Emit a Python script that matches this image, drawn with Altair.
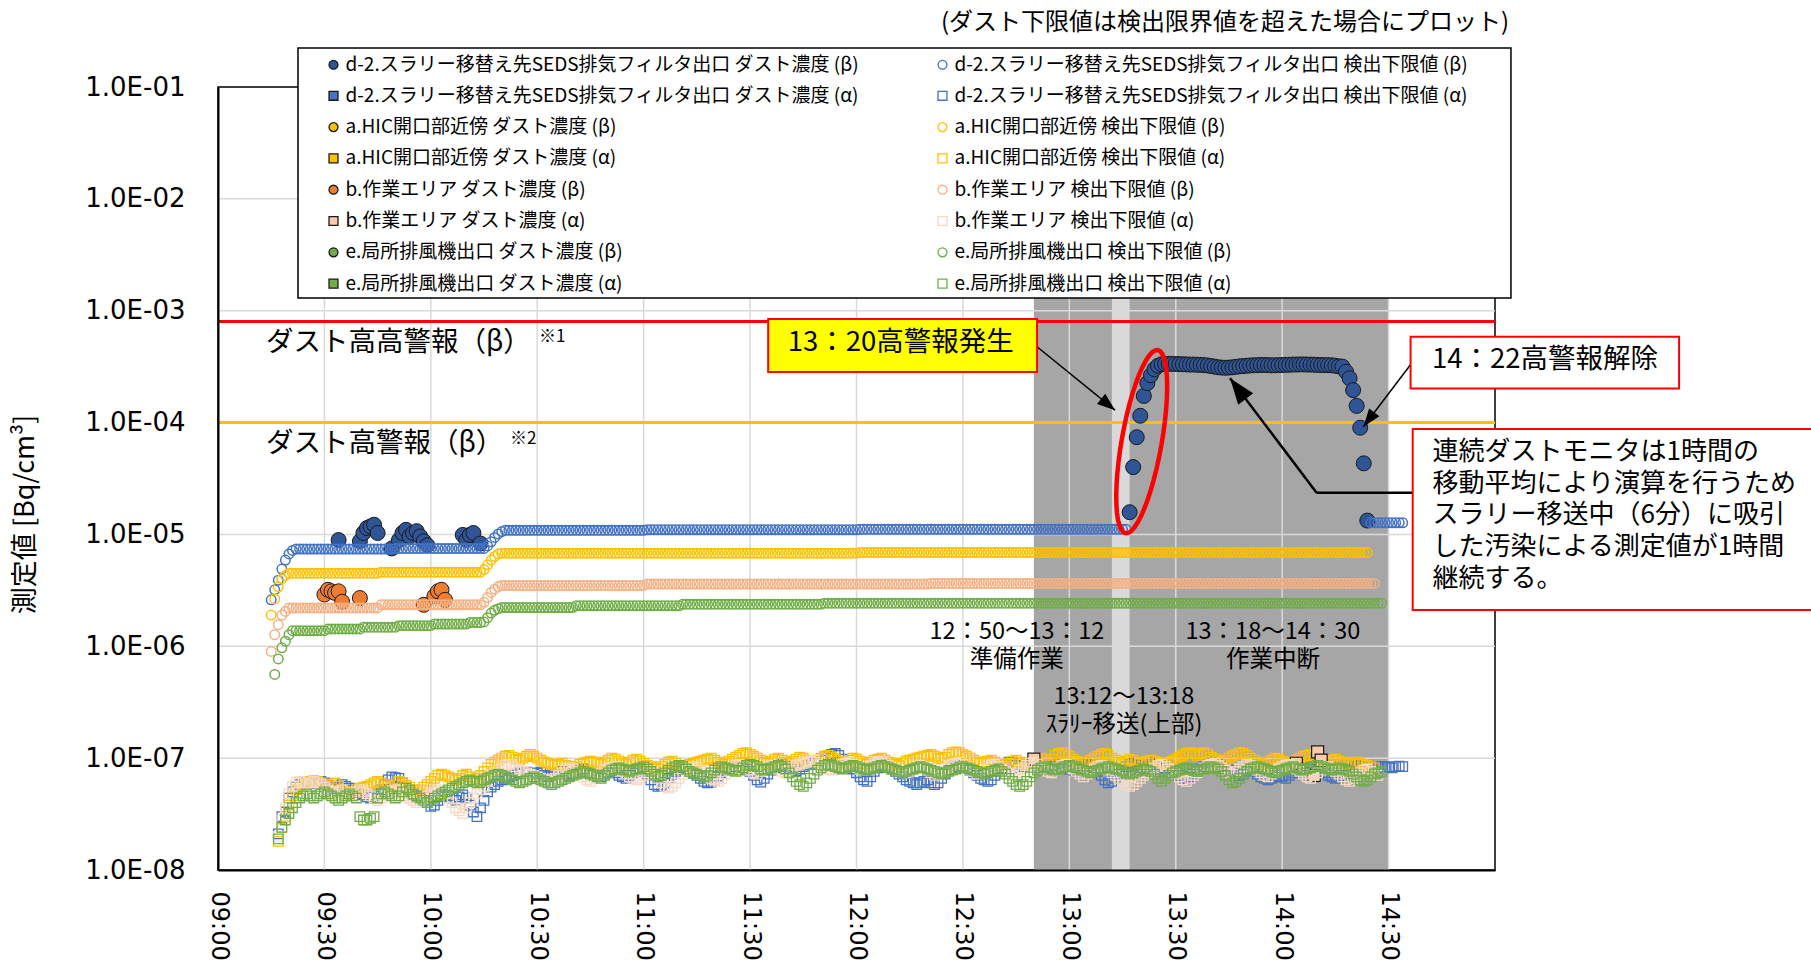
import math
import altair as alt
import pandas as pd

# ---------------------------------------------------------------------------
# Geometry: x = minutes after 09:00 (09:00-15:00), y = Bq/cm3 on a log scale
# ---------------------------------------------------------------------------
PLOT_W, PLOT_H = 1277, 783
X_DOMAIN = [0, 360]
Y_DOMAIN = [1e-8, 1e-1]

x_tick_minutes = [0, 30, 60, 90, 120, 150, 180, 210, 240, 270, 300, 330]
y_tick_values = [1e-8, 1e-7, 1e-6, 1e-5, 1e-4, 1e-3, 1e-2, 1e-1]

# ---------------------------------------------------------------------------
# Series (this order = drawing order)
# ---------------------------------------------------------------------------
series_labels = [
    "d-2.スラリー移替え先SEDS排気フィルタ出口 ダスト濃度 (β)",
    "d-2.スラリー移替え先SEDS排気フィルタ出口 検出下限値 (β)",
    "d-2.スラリー移替え先SEDS排気フィルタ出口 ダスト濃度 (α)",
    "d-2.スラリー移替え先SEDS排気フィルタ出口 検出下限値 (α)",
    "a.HIC開口部近傍 ダスト濃度 (β)",
    "a.HIC開口部近傍 検出下限値 (β)",
    "a.HIC開口部近傍 ダスト濃度 (α)",
    "a.HIC開口部近傍 検出下限値 (α)",
    "b.作業エリア ダスト濃度 (β)",
    "b.作業エリア 検出下限値 (β)",
    "b.作業エリア ダスト濃度 (α)",
    "b.作業エリア 検出下限値 (α)",
    "e.局所排風機出口 ダスト濃度 (β)",
    "e.局所排風機出口 検出下限値 (β)",
    "e.局所排風機出口 ダスト濃度 (α)",
    "e.局所排風機出口 検出下限値 (α)",
]
series_fill = [
    "#2F5597", "transparent", "#4472C4", "transparent",
    "#FFC000", "transparent", "#FFC000", "transparent",
    "#ED7D31", "transparent", "#F8CBAD", "transparent",
    "#70AD47", "transparent", "#70AD47", "transparent",
]
series_stroke = [
    "#1A1A1A", "#4472C4", "#1A1A1A", "#4472C4",
    "#1A1A1A", "#FFC000", "#1A1A1A", "#FFC000",
    "#1A1A1A", "#F4B183", "#1A1A1A", "#F8D9C4",
    "#1A1A1A", "#70AD47", "#1A1A1A", "#70AD47",
]
series_shape = ["circle", "circle", "square", "square"] * 4
series_size = [225, 90, 144, 90] * 4
series_width = [1.0, 1.5, 1.2, 1.3] * 4

# legend lists the concentrations in the first column, detection limits in the second
legend_order = [0, 2, 4, 6, 8, 10, 12, 14, 1, 3, 5, 7, 9, 11, 13, 15]

# ---------------------------------------------------------------------------
# Measured values (1-minute samples)
# ---------------------------------------------------------------------------
# d-2 dust concentration (β), morning exceedances: minute, value
d2_conc_beta_am_min = [34, 40, 41, 42, 43, 44, 45, 49, 51, 52, 53, 54, 55, 56, 57, 58, 59, 69, 70, 71, 72, 74]
d2_conc_beta_am_val = [8.9e-6, 8.7e-6, 1.03e-5, 1.14e-5, 1.18e-5, 1.22e-5, 1.03e-5, 7.5e-6, 8.9e-6, 1.03e-5,
                       1.10e-5, 9.6e-6, 1.03e-5, 1.07e-5, 9.6e-6, 8.7e-6, 8.0e-6, 9.9e-6, 8.9e-6, 9.9e-6,
                       1.03e-5, 8.3e-6]
# d-2 dust concentration (β) from 13:17 to 14:24
d2_conc_beta_pm_start = 257
d2_conc_beta_pm_val = [
    1.58e-5, 4.0e-5, 7.4e-5, 1.15e-4, 1.73e-4, 2.25e-4, 2.65e-4, 3.0e-4, 3.22e-4, 3.32e-4,
    3.34e-4, 3.35e-4, 3.35e-4, 3.34e-4, 3.33e-4, 3.32e-4, 3.31e-4, 3.30e-4, 3.30e-4, 3.29e-4,
    3.28e-4, 3.26e-4, 3.24e-4, 3.20e-4, 3.16e-4, 3.12e-4, 3.10e-4, 3.09e-4, 3.10e-4, 3.12e-4,
    3.15e-4, 3.18e-4, 3.20e-4, 3.22e-4, 3.24e-4, 3.25e-4, 3.26e-4, 3.27e-4, 3.27e-4, 3.26e-4,
    3.25e-4, 3.25e-4, 3.26e-4, 3.27e-4, 3.28e-4, 3.29e-4, 3.30e-4, 3.30e-4, 3.31e-4, 3.31e-4,
    3.30e-4, 3.30e-4, 3.29e-4, 3.28e-4, 3.27e-4, 3.26e-4, 3.26e-4, 3.25e-4, 3.22e-4, 3.18e-4,
    3.16e-4, 2.85e-4, 2.49e-4, 1.95e-4, 1.41e-4, 9.0e-5, 4.32e-5, 1.33e-5,
]

# detection limits (β): (value, number of consecutive minutes)
d2_lod_beta_start = 15
d2_lod_beta_runs = [(2.6e-6, 1), (3.2e-6, 1), (3.9e-6, 1), (4.9e-6, 1), (5.9e-6, 1), (6.7e-6, 1), (7.2e-6, 1),
                    (7.4e-6, 28), (7.5e-6, 26), (7.9e-6, 1), (8.6e-6, 1), (9.4e-6, 1), (1.01e-5, 1),
                    (1.06e-5, 1), (1.09e-5, 40), (1.10e-5, 60), (1.11e-5, 76)]
d2_lod_beta_tail_start = 325
d2_lod_beta_tail_runs = [(1.27e-5, 10)]

a_lod_beta_start = 15
a_lod_beta_runs = [(1.9e-6, 1), (2.65e-6, 1), (3.4e-6, 1), (4.0e-6, 1), (4.3e-6, 1), (4.5e-6, 26), (4.6e-6, 29),
                   (4.85e-6, 1), (5.35e-6, 1), (5.9e-6, 1), (6.35e-6, 1), (6.7e-6, 1), (6.8e-6, 101),
                   (6.9e-6, 144)]

b_lod_beta_start = 15
b_lod_beta_runs = [(9.0e-7, 1), (1.27e-6, 1), (1.56e-6, 1), (1.9e-6, 1), (2.05e-6, 1), (2.2e-6, 26),
                   (2.35e-6, 29), (2.47e-6, 1), (2.73e-6, 1), (3.03e-6, 1), (3.24e-6, 1), (3.42e-6, 1),
                   (3.5e-6, 41), (3.6e-6, 80), (3.65e-6, 126)]

e_lod_beta_start = 16
e_lod_beta_runs = [(5.6e-7, 1), (7.7e-7, 1), (9.7e-7, 1), (1.11e-6, 1), (1.27e-6, 1), (1.38e-6, 10),
                   (1.43e-6, 10), (1.48e-6, 10), (1.53e-6, 10), (1.58e-6, 10), (1.63e-6, 4), (1.65e-6, 1),
                   (1.8e-6, 1), (1.98e-6, 1), (2.1e-6, 1), (2.17e-6, 1), (2.22e-6, 21), (2.3e-6, 30),
                   (2.38e-6, 40), (2.43e-6, 158)]

# b dust concentration (β), morning exceedances
b_conc_beta_min = [30, 31, 32, 33, 34, 35, 40, 58, 61, 62, 63, 64]
b_conc_beta_val = [2.9e-6, 3.2e-6, 3.1e-6, 3.0e-6, 3.1e-6, 2.5e-6, 2.7e-6, 2.35e-6, 2.8e-6, 3.1e-6, 3.2e-6, 2.6e-6]

# b dust concentration (α)
b_conc_alpha_min = [230, 304, 309, 310, 311]
b_conc_alpha_val = [9.8e-8, 9.0e-8, 7.0e-8, 1.14e-7, 9.6e-8]

# detection limits (α), units of 1e-9 Bq/cm3, one value per minute
ALPHA_UNIT = 1e-9
d2_lod_alpha_start = 17
d2_lod_alpha = [
    21, 30, 33, 44, 50, 55, 58, 60, 62, 61, 60, 59, 62, 60, 57, 55, 53, 55, 58, 56,
    54, 52, 50, 48, 47, 45, 44, 46, 48, 52, 58, 64, 68, 67, 66, 60, 55, 50, 47, 45,
    46, 44, 40, 37, 38, 42, 45, 47, 46, 44, 42, 45, 47, 44, 38, 33, 30, 36, 42, 50,
    55, 58, 62, 64, 66, 68, 70, 72, 74, 73, 75, 74, 72, 73, 75, 70, 68, 70, 72, 74,
    76, 73, 70, 72, 75, 78, 80, 76, 74, 72, 70, 68, 72, 75, 78, 74, 70, 68, 66, 70,
    74, 77, 80, 76, 72, 64, 58, 56, 57, 60, 66, 72, 76, 79, 82, 80, 76, 73, 70, 66,
    62, 60, 61, 64, 69, 74, 78, 80, 82, 84, 86, 85, 80, 76, 70, 64, 61, 66, 72, 78,
    82, 86, 88, 85, 82, 80, 77, 80, 84, 87, 90, 92, 94, 96, 100, 104, 108, 110, 106, 98,
    90, 84, 80, 74, 68, 64, 62, 68, 76, 82, 86, 88, 85, 80, 76, 72, 68, 64, 62, 60,
    58, 60, 62, 64, 60, 58, 60, 66, 72, 78, 84, 88, 90, 86, 82, 78, 74, 70, 66, 64,
    62, 64, 70, 76, 82, 88, 92, 90, 86, 82, 84, 88, 90, 92, 88, 84, 80, 78, 82, 86,
    90, 88, 84, 80, 78, 76, 80, 84, 88, 86, 82, 76, 70, 64, 60, 62, 66, 72, 78, 84,
    88, 90, 86, 82, 80, 84, 88, 92, 90, 86, 82, 78, 74, 72, 70, 68, 66, 68, 72, 76,
    80, 84, 88, 90, 92, 88, 84, 80, 78, 74, 72, 70, 72, 76, 80, 76, 72, 68, 66, 64,
    66, 68, 70, 68, 66, 70, 74, 78, 82, 86, 88, 90, 86, 82, 78, 74, 70, 68, 66, 68,
    70, 72, 76, 80, 84, 86, 88, 86, 84, 82, 82, 84, 84, 83, 82, 84, 85, 84,
]
a_lod_alpha_start = 17
a_lod_alpha = [
    18, 24, 30, 38, 46, 52, 56, 58, 60, 62, 63, 62, 60, 58, 56, 58, 60, 56, 52, 50,
    48, 50, 52, 54, 55, 56, 58, 60, 62, 60, 58, 56, 54, 58, 62, 60, 57, 55, 52, 50,
    52, 55, 58, 62, 66, 70, 72, 70, 68, 66, 64, 66, 70, 72, 68, 64, 66, 70, 76, 82,
    88, 92, 96, 100, 104, 106, 102, 98, 96, 100, 104, 108, 104, 100, 96, 92, 90, 88, 86, 88,
    90, 86, 84, 82, 84, 88, 90, 92, 94, 92, 90, 88, 92, 96, 100, 98, 94, 90, 88, 92,
    96, 98, 94, 90, 86, 84, 82, 80, 84, 88, 92, 94, 90, 86, 84, 86, 88, 90, 92, 94,
    96, 98, 100, 96, 92, 88, 90, 94, 98, 102, 106, 110, 112, 108, 104, 100, 96, 92, 90, 94,
    98, 100, 96, 92, 90, 94, 98, 102, 100, 96, 94, 92, 96, 100, 104, 106, 102, 98, 94, 90,
    92, 96, 100, 98, 94, 90, 88, 92, 96, 98, 100, 96, 92, 90, 88, 86, 90, 94, 96, 98,
    100, 102, 104, 106, 108, 104, 100, 98, 102, 108, 112, 114, 112, 108, 104, 100, 96, 92, 90, 92,
    94, 96, 92, 88, 86, 88, 90, 94, 96, 92, 90, 88, 90, 94, 98, 100, 96, 92, 98, 106,
    110, 112, 108, 104, 98, 94, 92, 90, 92, 96, 100, 104, 108, 110, 106, 100, 96, 92, 90, 94,
    98, 96, 92, 90, 92, 94, 96, 94, 92, 90, 88, 90, 94, 98, 102, 106, 110, 112, 110, 106,
    110, 112, 108, 102, 98, 94, 92, 96, 100, 104, 108, 112, 110, 106, 100, 96, 92, 90, 88, 92,
    96, 100, 98, 94, 92, 90, 92, 96, 100, 104, 106, 108, 104, 100, 96, 94, 92, 96, 98, 94,
    92, 90, 88, 90, 92, 90, 88, 86, 84, 82,
]
b_lod_alpha_start = 17
b_lod_alpha = [
    20, 28, 36, 48, 56, 60, 62, 60, 58, 60, 62, 60, 58, 55, 52, 50, 48, 50, 52, 48,
    46, 48, 50, 52, 50, 48, 46, 44, 42, 44, 46, 48, 50, 52, 50, 48, 46, 44, 42, 40,
    42, 44, 46, 48, 50, 52, 50, 48, 44, 40, 36, 34, 32, 36, 40, 44, 48, 52, 56, 62,
    68, 74, 78, 82, 86, 88, 84, 80, 78, 76, 74, 72, 70, 68, 66, 64, 62, 64, 66, 70,
    74, 78, 82, 80, 76, 72, 68, 64, 62, 66, 70, 74, 78, 80, 82, 84, 80, 76, 72, 68,
    66, 64, 66, 70, 74, 76, 72, 66, 60, 56, 54, 56, 60, 66, 72, 78, 82, 84, 82, 78,
    74, 70, 66, 64, 62, 66, 72, 78, 82, 86, 88, 86, 82, 78, 74, 72, 76, 80, 84, 86,
    84, 80, 76, 74, 78, 82, 86, 88, 90, 92, 94, 96, 92, 88, 84, 80, 78, 80, 84, 88,
    90, 92, 88, 84, 80, 78, 82, 86, 90, 92, 94, 90, 86, 82, 80, 78, 76, 74, 76, 80,
    84, 86, 82, 78, 74, 70, 72, 76, 80, 84, 88, 90, 92, 88, 84, 80, 76, 72, 74, 78,
    82, 86, 88, 84, 80, 76, 72, 70, 74, 78, 82, 86, 90, 92, 88, 84, 80, 76, 74, 78,
    82, 86, 88, 84, 80, 76, 72, 68, 72, 76, 80, 84, 86, 82, 78, 74, 70, 66, 62, 58,
    56, 58, 62, 66, 70, 74, 78, 82, 86, 88, 84, 80, 76, 72, 68, 64, 62, 66, 70, 74,
    78, 82, 86, 88, 90, 86, 82, 78, 74, 72, 76, 80, 84, 88, 86, 82, 78, 74, 70, 68,
    72, 76, 80, 84, 86, 88, 84, 80, 76, 72, 68, 66, 70, 74, 78, 82, 84, 80, 76, 72,
    68, 64, 62, 66, 70, 74, 78, 80, 76, 72, 70,
]
e_lod_alpha_start = 17
e_lod_alpha = [
    19, 24, 28, 32, 36, 40, 44, 46, 48, 46, 44, 46, 48, 50, 48, 46, 44, 42, 44, 46,
    48, 46, 44, 30, 28, 28, 29, 30, 44, 48, 50, 48, 46, 44, 46, 50, 54, 52, 48, 46,
    44, 42, 40, 42, 44, 46, 48, 50, 52, 54, 56, 58, 60, 62, 64, 62, 60, 62, 64, 66,
    68, 70, 72, 70, 68, 66, 64, 62, 60, 62, 64, 66, 68, 66, 64, 62, 60, 58, 60, 62,
    64, 66, 68, 70, 72, 74, 76, 74, 72, 70, 68, 66, 70, 74, 78, 80, 82, 80, 78, 76,
    78, 80, 82, 84, 80, 76, 72, 68, 70, 74, 78, 82, 84, 86, 84, 80, 76, 74, 72, 70,
    68, 70, 74, 78, 82, 84, 82, 80, 78, 76, 78, 82, 86, 88, 86, 84, 80, 78, 80, 82,
    84, 86, 84, 80, 74, 68, 62, 58, 56, 60, 66, 72, 78, 82, 86, 88, 86, 84, 82, 80,
    82, 84, 86, 84, 82, 80, 78, 80, 82, 84, 86, 84, 82, 80, 78, 76, 74, 76, 78, 80,
    82, 84, 82, 80, 78, 76, 74, 72, 74, 76, 78, 80, 82, 84, 82, 80, 78, 76, 74, 72,
    74, 76, 78, 80, 76, 72, 66, 62, 58, 56, 58, 62, 68, 74, 78, 82, 84, 82, 80, 78,
    80, 82, 84, 86, 84, 82, 80, 78, 76, 74, 76, 78, 80, 82, 84, 82, 80, 78, 76, 74,
    72, 74, 76, 78, 80, 78, 76, 72, 66, 62, 66, 70, 74, 76, 78, 80, 82, 80, 78, 76,
    78, 80, 82, 84, 82, 80, 76, 70, 64, 60, 62, 66, 72, 76, 80, 82, 84, 82, 80, 78,
    76, 74, 76, 78, 80, 82, 84, 82, 80, 78, 80, 82, 84, 86, 84, 82, 80, 78, 80, 82,
    80, 78, 76, 72, 68, 64, 62, 64, 68, 72, 74, 76,
]

# work periods shaded in the background (minutes after 09:00)
band_start = [230, 252]
band_end = [330, 257]
band_color = ["#A6A6A6", "#D9D9D9"]

# alarm levels
alarm_high_high = 8e-4
alarm_high = 1e-4


def expand_runs(start, runs):
    pts, m = [], start
    for value, count in runs:
        for _ in range(count):
            pts.append((m, value))
            m += 1
    return pts


def consecutive(start, values, unit=1.0):
    return [(start + i, v * unit) for i, v in enumerate(values)]


points_by_series = {i: [] for i in range(len(series_labels))}
points_by_series[0] = list(zip(d2_conc_beta_am_min, d2_conc_beta_am_val)) + consecutive(d2_conc_beta_pm_start, d2_conc_beta_pm_val)
points_by_series[1] = expand_runs(d2_lod_beta_start, d2_lod_beta_runs) + expand_runs(d2_lod_beta_tail_start, d2_lod_beta_tail_runs)
points_by_series[3] = consecutive(d2_lod_alpha_start, d2_lod_alpha, ALPHA_UNIT)
points_by_series[5] = expand_runs(a_lod_beta_start, a_lod_beta_runs)
points_by_series[7] = consecutive(a_lod_alpha_start, a_lod_alpha, ALPHA_UNIT)
points_by_series[8] = list(zip(b_conc_beta_min, b_conc_beta_val))
points_by_series[9] = expand_runs(b_lod_beta_start, b_lod_beta_runs)
points_by_series[10] = list(zip(b_conc_alpha_min, b_conc_alpha_val))
points_by_series[11] = consecutive(b_lod_alpha_start, b_lod_alpha, ALPHA_UNIT)
points_by_series[13] = expand_runs(e_lod_beta_start, e_lod_beta_runs)
points_by_series[15] = consecutive(e_lod_alpha_start, e_lod_alpha, ALPHA_UNIT)

rows = []
for i, label in enumerate(series_labels):
    for m, v in points_by_series[i]:
        rows.append({"m": m, "v": v, "series": label,
                     "size": series_size[i], "sw": series_width[i]})
data = pd.DataFrame(rows)

# ---------------------------------------------------------------------------
# Scales and axes
# ---------------------------------------------------------------------------
XS = alt.Scale(domain=X_DOMAIN, nice=False, zero=False)
YS = alt.Scale(type="log", domain=Y_DOMAIN, nice=False)

X_LABEL = ("(floor(datum.value / 60) + 9 < 10 ? '0' : '') + toString(floor(datum.value / 60) + 9)"
           " + ':' + (datum.value % 60 < 10 ? '0' : '') + toString(datum.value % 60)")
Y_LABEL = "'1.0E-0' + toString(round(-log(datum.value) / LN10))"

XA = alt.Axis(values=x_tick_minutes, labelExpr=X_LABEL, labelAngle=90, labelFont="DejaVu Sans",
              labelFontSize=24, labelColor="black", labelPadding=21, labelFlush=False,
              labelOverlap=False, ticks=False, grid=False, domainColor="black", domainWidth=2,
              title=None, zindex=1)
YA = alt.Axis(values=y_tick_values, labelExpr=Y_LABEL, labelFont="DejaVu Sans", labelFontSize=26,
              labelColor="black", labelPadding=33, labelFlush=False, labelOverlap=False,
              ticks=False, grid=False, domainColor="black", domainWidth=2,
              title="測定値 [Bq/cm³]", titleFont="Noto Sans CJK JP", titleFontSize=27,
              titleFontWeight="normal", titleColor="black", titleAngle=270,
              titleX=-193, titleY=427, titleAlign="center", titleBaseline="middle", zindex=1)


def X(field):
    return alt.X(field, type="quantitative", scale=XS, axis=XA)


def Y(field):
    return alt.Y(field, type="quantitative", scale=YS, axis=YA)


# ---------------------------------------------------------------------------
# Background: shaded periods, grid lines, alarm levels, legend frame
# ---------------------------------------------------------------------------
bands = alt.Chart(pd.DataFrame({"m0": band_start, "m1": band_end, "c": band_color,
                                "v0": [Y_DOMAIN[0]] * 2, "v1": [Y_DOMAIN[1]] * 2})).mark_rect().encode(
    x=X("m0"), x2="m1", y=Y("v0"), y2="v1", fill=alt.Fill("c:N", scale=None))

vgrid = alt.Chart(pd.DataFrame({"m": x_tick_minutes[1:]})).mark_rule(
    color="#D9D9D9", strokeWidth=1.5).encode(x=X("m"))
hgrid = alt.Chart(pd.DataFrame({"v": y_tick_values[1:-1]})).mark_rule(
    color="#D9D9D9", strokeWidth=1.5).encode(y=Y("v"))

red_line = alt.Chart(pd.DataFrame({"v": [alarm_high_high]})).mark_rule(
    color="#FF0000", strokeWidth=3).encode(y=Y("v"))
orange_line = alt.Chart(pd.DataFrame({"v": [alarm_high]})).mark_rule(
    color="#FFC000", strokeWidth=3).encode(y=Y("v"))

legend_frame = alt.Chart(pd.DataFrame({"m0": [22.55], "m1": [364.5], "v0": [0.2232], "v1": [1.30e-3]})).mark_rect(
    fill="white", stroke="black", strokeWidth=1.5).encode(x=X("m0"), x2="m1", y=Y("v0"), y2="v1")

# ---------------------------------------------------------------------------
# Measurements
# ---------------------------------------------------------------------------
legend_domain = [series_labels[i] for i in legend_order]
legend = alt.Legend(
    title=None, orient="none", legendX=77, legendY=-39, columns=2, padding=7,
    labelFont="Noto Sans CJK JP", labelFontSize=19, labelColor="black", labelLimit=900,
    symbolSize=80, symbolStrokeWidth=1.3, symbolOffset=22, labelOffset=2.5,
    rowPadding=11.3, columnPadding=52, zindex=1,
)
points = alt.Chart(data).mark_point(filled=True, opacity=1).encode(
    x=X("m"), y=Y("v"),
    fill=alt.Fill("series:N", scale=alt.Scale(domain=legend_domain, range=[series_fill[i] for i in legend_order]),
                  legend=legend),
    stroke=alt.Stroke("series:N", scale=alt.Scale(domain=legend_domain, range=[series_stroke[i] for i in legend_order]),
                      legend=legend),
    shape=alt.Shape("series:N", scale=alt.Scale(domain=legend_domain, range=[series_shape[i] for i in legend_order]),
                    legend=legend),
    size=alt.Size("size:Q", scale=None),
    strokeWidth=alt.StrokeWidth("sw:Q", scale=None),
)

# ---------------------------------------------------------------------------
# Annotations (positions in minutes after 09:00 and Bq/cm3)
# ---------------------------------------------------------------------------
JP = "Noto Sans CJK JP"


def text_lines(m, v, lines, size, align="left", line_height=0):
    """One text mark per line; (m, v) is the middle of the first line."""
    layers = []
    for k, line in enumerate(lines):
        layers.append(
            alt.Chart(pd.DataFrame({"m": [m], "v": [v], "t": [line]})).mark_text(
                font=JP, fontSize=size, align=align, baseline="middle", color="black", dy=k * line_height
            ).encode(x=X("m"), y=Y("v"), text="t:N"))
    return layers


def box_layer(m0, m1, v0, v1, fill):
    return alt.Chart(pd.DataFrame({"m0": [m0], "m1": [m1], "v0": [v0], "v1": [v1]})).mark_rect(
        fill=fill, stroke="#FF0000", strokeWidth=2).encode(x=X("m0"), x2="m1", y=Y("v0"), y2="v1")


def px(m):
    return m / X_DOMAIN[1] * PLOT_W


def py(v):
    return (math.log10(Y_DOMAIN[1]) - math.log10(v)) / 7 * PLOT_H


def arrow_layers(path, head_size, width):
    segs = pd.DataFrame({"m0": [p[0] for p in path[:-1]], "v0": [p[1] for p in path[:-1]],
                         "m1": [p[0] for p in path[1:]], "v1": [p[1] for p in path[1:]]})
    line = alt.Chart(segs).mark_rule(color="black", strokeWidth=width).encode(
        x=X("m0"), y=Y("v0"), x2="m1", y2="v1")
    (am, av), (bm, bv) = path[-2], path[-1]
    ang = (math.degrees(math.atan2(py(bv) - py(av), px(bm) - px(am))) + 90) % 360
    head = alt.Chart(pd.DataFrame({"m": [bm], "v": [bv], "a": [ang], "s": [head_size]})).mark_point(
        shape="M0,0L-0.36,1L0.36,1Z", filled=True, color="black", opacity=1).encode(
        x=X("m"), y=Y("v"), angle=alt.Angle("a:Q", scale=None), size=alt.Size("s:Q", scale=None))
    return [line, head]


ellipse_path = "M" + "L".join(
    f"{0.215 * math.cos(2 * math.pi * k / 48):.4f},{math.sin(2 * math.pi * k / 48):.4f}" for k in range(48)) + "Z"
ellipse = alt.Chart(pd.DataFrame({"m": [260.4], "v": [6.75e-5]})).mark_point(
    shape=ellipse_path, size=34596, angle=10, filled=False, stroke="#FF0000", strokeWidth=4.5,
    opacity=1).encode(x=X("m"), y=Y("v"))

notes = (
    text_lines(364.0, 0.373, ["(ダスト下限値は検出限界値を超えた場合にプロット)"], 24, align="right")
    + text_lines(13.5, 5.1e-4, ["ダスト高高警報（β）"], 27.5)
    + text_lines(90.5, 5.8e-4, ["※1"], 17)
    + text_lines(13.5, 6.4e-5, ["ダスト高警報（β）"], 27.5)
    + text_lines(82.3, 7.1e-5, ["※2"], 17)
    + text_lines(225.2, 1.35e-6, ["12：50～13：12", "準備作業"], 23.5, align="center", line_height=28.6)
    + text_lines(297.4, 1.35e-6, ["13：18～14：30", "作業中断"], 23.5, align="center", line_height=28.6)
    + text_lines(255.4, 3.54e-7, ["13:12～13:18", "ｽﾗﾘｰ移送(上部)"], 23.5, align="center", line_height=28.6)
)
boxes = (
    [box_layer(155.1, 230.9, 8.43e-4, 2.83e-4, "#FFFF00")]
    + text_lines(192.5, 5.1e-4, ["13：20高警報発生"], 27.5, align="center")
    + [box_layer(336.2, 411.9, 5.86e-4, 2.02e-4, "white")]
    + text_lines(374.1, 3.6e-4, ["14：22高警報解除"], 27.5, align="center")
    + [box_layer(336.8, 470.0, 8.75e-5, 2.11e-6, "white")]
    + text_lines(342.4, 5.49e-5,
                 ["連続ダストモニタは1時間の", "移動平均により演算を行うため", "スラリー移送中（6分）に吸引",
                  "した汚染による測定値が1時間", "継続する。"], 26, line_height=31.8)
)
arrows = (arrow_layers([(230.9, 4.76e-4), (252.9, 1.29e-4)], 1296, 1.5)
          + arrow_layers([(336.5, 3.39e-4), (322.9, 9.18e-5)], 1296, 1.5)
          + arrow_layers([(336.8, 2.36e-5), (309.7, 2.36e-5), (285.3, 2.49e-4)], 2704, 2.5))

chart = alt.layer(
    bands, vgrid, hgrid, red_line, orange_line, legend_frame, points, *notes, ellipse, *arrows, *boxes
).properties(
    width=PLOT_W, height=PLOT_H,
    padding={"left": 218, "top": 87, "right": 316, "bottom": 98},
    autosize=alt.AutoSizeParams(type="none"),
    background="white",
).configure_view(stroke="black", strokeWidth=1.5)

chart.save("out.html", embed_options={"renderer": "svg", "actions": False})
